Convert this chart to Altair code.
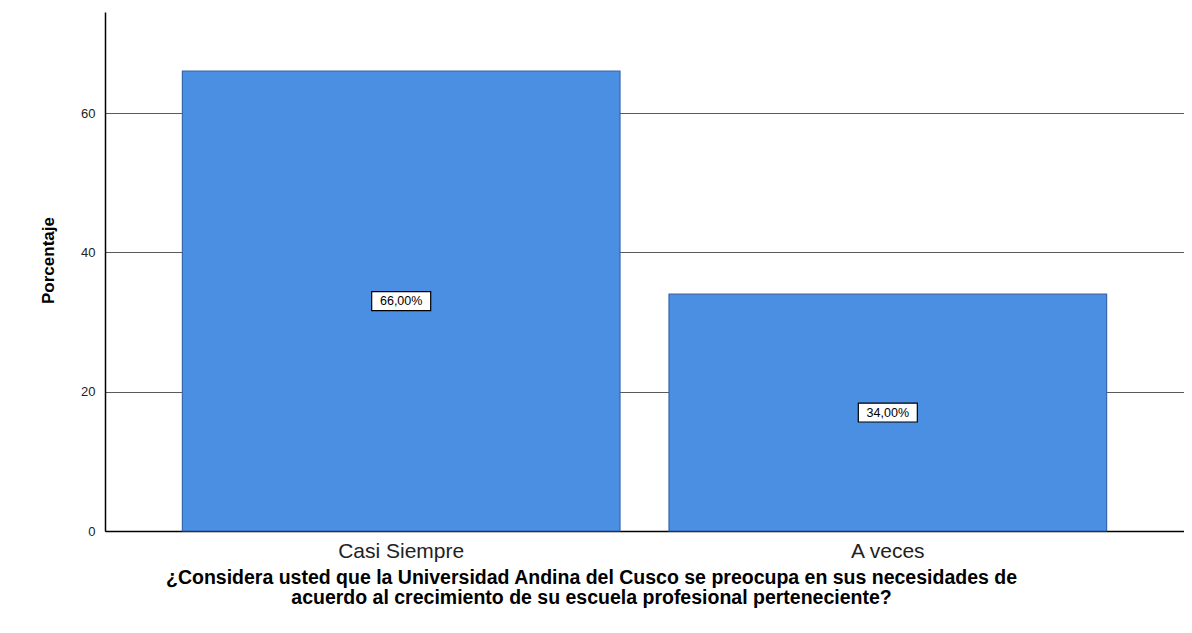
import altair as alt
import pandas as pd

categories = ["Casi Siempre", "A veces"]
percentages = [66.0, 34.0]
labels = ["66,00%", "34,00%"]

df = pd.DataFrame({
    "cat": categories,
    "pct": percentages,
    "mid": [p / 2 for p in percentages],
    "label": labels,
})

FONT = "Liberation Sans"

x_enc = alt.X(
    "cat:N",
    sort=categories,
    scale=alt.Scale(paddingInner=0.1007, paddingOuter=0.159),
    axis=alt.Axis(
        title=["¿Considera usted que la Universidad Andina del Cusco se preocupa en sus necesidades de",
               "acuerdo al crecimiento de su escuela profesional perteneciente?"],
        titleFont=FONT, titleFontSize=19.5, titleFontWeight="bold", titleColor="#000000",
        titleX=486, titleY=52, titleBaseline="alphabetic", titleAlign="center",
        titleLineHeight=20,
        labelFont=FONT, labelFontSize=21, labelColor="#222222", labelPadding=9,
        labelAngle=0,
        ticks=False, domainColor="#000000", domainWidth=1.5, grid=False,
    ),
)

y_scale = alt.Scale(domain=[0, 74.5], nice=False, zero=True)

bars = alt.Chart(df).mark_bar(
    color="#4b8fe2", stroke="#3566ad", strokeWidth=1.2
).encode(
    x=x_enc,
    y=alt.Y(
        "pct:Q",
        scale=y_scale,
        axis=alt.Axis(
            title="Porcentaje", values=[0, 20, 40, 60],
            titleFont=FONT, titleFontSize=17, titleFontWeight="bold", titleColor="#000000",
            titleX=-57, titleY=248, titleAngle=-90, titleBaseline="middle", titleAlign="center",
            labelFont=FONT, labelFontSize=13, labelColor="#222222", labelPadding=10,
            ticks=False, domainColor="#000000", domainWidth=1.5,
            grid=True, gridColor="#5a5a5a", gridWidth=1,
        ),
    ),
)

boxes = alt.Chart(df).mark_point(
    shape="M-1,-0.32L1,-0.32L1,0.32L-1,0.32Z",
    size=3481, filled=True, fill="#ffffff", stroke="#000000", strokeWidth=1.2, opacity=1,
).encode(
    x=alt.X("cat:N", sort=categories),
    y=alt.Y("mid:Q", scale=y_scale),
)

texts = alt.Chart(df).mark_text(
    font=FONT, fontSize=12.5, color="#000000", baseline="middle", align="center"
).encode(
    x=alt.X("cat:N", sort=categories),
    y=alt.Y("mid:Q", scale=y_scale),
    text="label:N",
)

chart = alt.layer(bars, boxes, texts).properties(
    width=1079, height=519,
    background="#ffffff",
    autosize=alt.AutoSizeParams(type="none"),
    padding={"left": 97, "top": 4, "right": 0, "bottom": 90},
).configure_view(stroke=None)

chart.save("out.html", embed_options={"renderer": "svg", "actions": False})
